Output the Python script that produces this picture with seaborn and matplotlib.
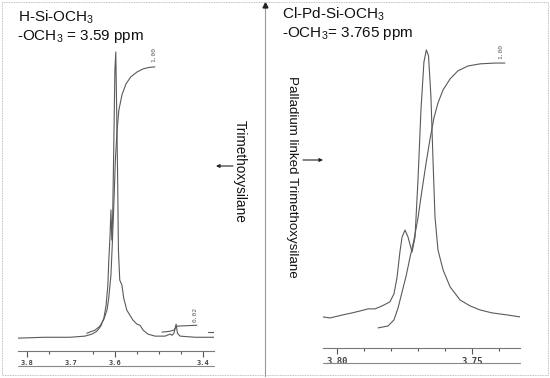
import matplotlib
matplotlib.use("Agg")
import matplotlib.pyplot as plt
import seaborn as sns
from matplotlib.patches import Rectangle

sns.set_style("white")
plt.rcParams['font.family'] = ['Liberation Sans', 'DejaVu Sans']
plt.rcParams['mathtext.fontset'] = 'custom'
plt.rcParams['mathtext.rm'] = 'Liberation Sans'
plt.rcParams['mathtext.it'] = 'Liberation Sans'

# H-Si-OCH3 spectrum (ppm, relative intensity)
left_ppm = [3.820, 3.759, 3.702, 3.668, 3.652, 3.641, 3.632, 3.625, 3.620, 3.616,
            3.614, 3.611, 3.609, 3.607, 3.605, 3.602, 3.600, 3.598, 3.597, 3.594,
            3.592, 3.589, 3.584, 3.580, 3.573, 3.566, 3.559, 3.550, 3.543, 3.536,
            3.525, 3.509, 3.486, 3.475, 3.470, 3.466, 3.461, 3.458, 3.452, 3.418, 3.375]
left_int = [0.0, 0.3, 0.3, 0.7, 1.4, 2.4, 4.2, 7.0, 11.5, 18.5,
            26.6, 36.0, 44.8, 34.3, 43.0, 72.7, 93.7, 100.0, 90.2, 58.7,
            30.8, 20.3, 18.5, 14.0, 9.8, 8.0, 6.3, 4.9, 4.5, 2.8,
            1.4, 0.7, 0.7, 1.4, 1.0, 1.7, 4.9, 1.7, 0.7, 0.3, 0.3]

# integration traces, left
left_integ_ppm = [3.664, 3.645, 3.634, 3.625, 3.618, 3.614, 3.609, 3.606, 3.602, 3.599,
                  3.595, 3.591, 3.584, 3.575, 3.564, 3.550, 3.536, 3.523, 3.509]
left_integ = [1.7, 2.8, 4.2, 6.6, 9.8, 14.0, 22.0, 32.5, 48.3, 62.2,
              72.7, 79.7, 85.0, 88.8, 91.3, 93.0, 94.1, 94.6, 94.8]
small_integ_ppm = [3.493, 3.475, 3.466, 3.461, 3.458, 3.414]
small_integ = [2.1, 2.4, 2.8, 3.8, 4.2, 4.5]
tail_integ_ppm = [3.389, 3.375]
tail_integ = [2.1, 2.1]

# Cl-Pd-Si-OCH3 spectrum
right_ppm = [3.8052, 3.8026, 3.7981, 3.7944, 3.7915, 3.7885, 3.7859, 3.7833, 3.7804, 3.7789,
             3.7778, 3.7767, 3.7759, 3.7748, 3.7737, 3.7722, 3.7711, 3.7700, 3.7689, 3.7678,
             3.7669, 3.7661, 3.7652, 3.7644, 3.7637, 3.7626, 3.7607, 3.7581, 3.7544, 3.7507,
             3.7470, 3.7426, 3.7367, 3.7322]
right_int = [0.4, 0.0, 1.1, 1.9, 2.6, 3.4, 3.4, 4.5, 6.0, 9.0,
             14.9, 24.6, 30.2, 32.8, 30.2, 24.6, 30.2, 51.5, 77.6, 95.5,
             100.0, 97.8, 82.5, 57.8, 37.7, 25.4, 17.9, 11.6, 6.7, 4.5,
             3.0, 1.9, 1.1, 0.4]
right_integ_ppm = [3.7848, 3.7811, 3.7789, 3.7774, 3.7759, 3.7744, 3.7730, 3.7715, 3.7700, 3.7685,
                   3.7670, 3.7656, 3.7641, 3.7626, 3.7607, 3.7581, 3.7552, 3.7515, 3.7470, 3.7415, 3.7378]
right_integ = [-3.7, -3.0, -0.7, 3.7, 9.7, 15.7, 22.4, 29.1, 37.3, 47.8,
               57.8, 66.4, 74.6, 80.2, 85.1, 89.2, 92.2, 94.0, 94.8, 95.1, 95.1]

left_ticks = [3.8, 3.6, 3.4]
left_ticklabels = ["3.8", "3.6", "3.4"]
left_minor = [3.75, 3.65, 3.55, 3.5, 3.45]
right_ticks = [3.80, 3.75]
right_ticklabels = ["3.80", "3.75"]
right_minor = [3.79, 3.78, 3.77, 3.76, 3.74]

W, H = 550, 378
fig = plt.figure(figsize=(W / 100, H / 100), dpi=100)
fig.patch.set_facecolor("white")

# overlay in pixel coordinates
ov = fig.add_axes([0, 0, 1, 1])
ov.set_xlim(0, W)
ov.set_ylim(H, 0)
ov.axis("off")
ov.add_patch(Rectangle((2, 2), 546, 373, fill=False, ec="#aaaaaa", lw=0.6, ls=(0, (1, 1))))
ov.plot([265, 265], [6, 376], color="#999999", lw=0.8)
ov.plot([265], [5], marker="^", color="#222222", ms=3.5)

title_kw = dict(fontsize=11, color="#111111")
ov.text(18, 22, "H-Si-OCH$_3$", **title_kw)
ov.text(17, 40, "-OCH$_3$ = 3.59 ppm", **title_kw)
ov.text(282, 19, "Cl-Pd-Si-OCH$_3$", **title_kw)
ov.text(282, 37, "-OCH$_3$= 3.765 ppm", **title_kw)

ov.text(240, 171, "Trimethoxysilane", rotation=-90, fontsize=9.8,
        ha="center", va="center", color="#111111")
ov.text(292, 177, "Palladium linked Trimethoxysilane", rotation=-90, fontsize=9.6,
        ha="center", va="center", color="#111111")
ov.annotate("", xy=(216, 166), xytext=(233, 166),
            arrowprops=dict(arrowstyle="-|>", color="#222222", lw=0.8,
                            mutation_scale=5, shrinkA=0, shrinkB=0))
ov.annotate("", xy=(323, 160), xytext=(303, 160),
            arrowprops=dict(arrowstyle="-|>", color="#222222", lw=0.8,
                            mutation_scale=5, shrinkA=0, shrinkB=0))

line_c = "#5a5a5a"


def style_axis(ax, ticks, labels, minor, size, off):
    ax.set_facecolor("none")
    for s in ["left", "right", "top"]:
        ax.spines[s].set_visible(False)
    ax.spines["bottom"].set_color("#777777")
    ax.spines["bottom"].set_linewidth(0.8)
    ax.set_yticks([])
    ax.set_xticks(ticks)
    ax.set_xticklabels(labels, fontfamily="DejaVu Sans Mono", fontweight="bold",
                       fontsize=size, color="#444444")
    ax.set_xticks(minor, minor=True)
    ax.tick_params(axis="x", which="major", direction="out", length=4.5,
                   width=0.8, color="#555555", pad=2.0, bottom=True)
    ax.tick_params(axis="x", which="minor", direction="out", length=2.2,
                   width=0.8, color="#555555", bottom=True)
    ax.set_xlabel("")
    ax.set_ylabel("")
    ax.plot([0, 1], [off, off], transform=ax.transAxes, clip_on=False,
            color="#888888", lw=0.8)


# left spectrum
axl = fig.add_axes([18 / W, (H - 351) / H, 196 / W, 311 / H])
sns.lineplot(x=left_ppm, y=left_int, ax=axl, color=line_c, lw=0.8, estimator=None)
sns.lineplot(x=left_integ_ppm, y=left_integ, ax=axl, color=line_c, lw=0.8, estimator=None)
sns.lineplot(x=small_integ_ppm, y=small_integ, ax=axl, color=line_c, lw=0.8, estimator=None)
sns.lineplot(x=tail_integ_ppm, y=tail_integ, ax=axl, color=line_c, lw=0.8, estimator=None)
axl.set_xlim(3.82, 3.375)
axl.set_ylim(-4.5, 104.2)
style_axis(axl, left_ticks, left_ticklabels, left_minor, 5.0, -15 / 311)
axl.text(3.70, -0.029, "3.7", transform=axl.get_xaxis_transform(), ha="center", va="top",
         fontfamily="DejaVu Sans Mono", fontweight="bold", fontsize=5.0, color="#444444")
axl.text(3.512, 96.5, "1.00", rotation=90, fontsize=4.5, fontfamily="DejaVu Sans Mono",
         color="#555555", ha="center", va="bottom")
axl.text(3.418, 5.5, "0.02", rotation=90, fontsize=4.5, fontfamily="DejaVu Sans Mono",
         color="#555555", ha="center", va="bottom")

# right spectrum
axr = fig.add_axes([323 / W, (H - 348) / H, 197 / W, 308 / H])
sns.lineplot(x=right_ppm, y=right_int, ax=axr, color=line_c, lw=0.8, estimator=None)
sns.lineplot(x=right_integ_ppm, y=right_integ, ax=axr, color=line_c, lw=0.8, estimator=None)
axr.set_xlim(3.8052, 3.7322)
axr.set_ylim(-11.2, 103.7)
style_axis(axr, right_ticks, right_ticklabels, right_minor, 6.5, -15 / 308)
axr.text(3.7393, 96.5, "1.00", rotation=90, fontsize=4.5, fontfamily="DejaVu Sans Mono",
         color="#555555", ha="center", va="bottom")

fig.savefig("out.png", dpi=100, facecolor="white")
